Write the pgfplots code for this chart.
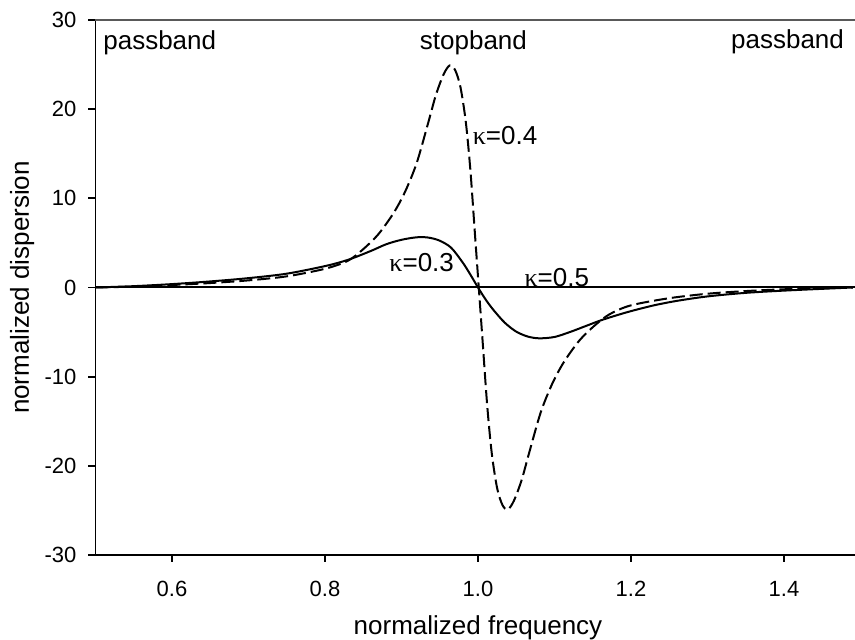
\documentclass[border=0pt]{standalone}
\usepackage{pgfplots}
\pgfplotsset{compat=1.18}
\usepackage{fontspec}
\setmainfont{Liberation Sans}
\newfontfamily\seriff{Liberation Serif}
\newcommand{\kap}{{\seriff κ}}
\begin{document}
\begin{tikzpicture}
\begin{axis}[
  name=ax,
  scale only axis,
  width=382.5pt, height=267.5pt,
  xmin=0.5, xmax=1.5, ymin=-30, ymax=30,
  axis x line*=bottom, axis y line*=left,
  axis line style={line width=0.9pt, black},
  tick align=outside,
  major tick length=3.5pt,
  tick style={line width=0.9pt, black},
  xtick={0.6,0.8,1.0,1.2,1.4},
  xticklabels={0.6,0.8,1.0,1.2,1.4},
  ytick={-30,-20,-10,0,10,20,30},
  yticklabels={-30,-20,-10,0,10,20,30},
  ticklabel style={font=\fontsize{11}{13}\selectfont},
  xticklabel style={yshift=-6pt},
  yticklabel style={xshift=-2.5pt},
  xlabel={normalized frequency},
  ylabel={normalized dispersion},
  label style={font=\fontsize{13}{15}\selectfont},
  xlabel style={at={(axis description cs:0.5,-0.1495)}, anchor=base},
  ylabel style={at={(axis description cs:-0.087,0.5)}, anchor=base, rotate=0},
  clip=false,
]
% zero line (kappa = 0.5)
\addplot[black, line width=1pt] coordinates {(0.5,0) (1.5,0)};
% solid curve (kappa = 0.3)
\addplot[black, line width=1pt, smooth] coordinates {
(0.50,0) (0.55,0.15) (0.60,0.38) (0.65,0.68) (0.70,1.05) (0.75,1.55)
(0.80,2.4) (0.83,3.1) (0.86,4.1) (0.88,4.85) (0.90,5.35) (0.92,5.63)
(0.935,5.6) (0.95,5.25) (0.965,4.45) (0.98,2.8) (0.99,1.45) (1.00,0)
(1.01,-1.35) (1.02,-2.5) (1.035,-3.95) (1.05,-4.95) (1.065,-5.5)
(1.08,-5.7) (1.10,-5.55) (1.12,-5.0) (1.14,-4.35) (1.16,-3.7)
(1.18,-3.15) (1.20,-2.65) (1.23,-2.0) (1.26,-1.5) (1.30,-1.0)
(1.35,-0.6) (1.40,-0.35) (1.45,-0.15) (1.49,0)
};
% dashed curve (kappa = 0.4)
\addplot[black, line width=1pt, dash pattern=on 6.5pt off 2.5pt, smooth] coordinates {
(0.50,0) (0.55,0.1) (0.60,0.28) (0.65,0.5) (0.70,0.8) (0.75,1.25)
(0.80,2.1) (0.83,3.0) (0.85,4.3) (0.87,6.0) (0.89,8.4) (0.905,10.8)
(0.92,14.0) (0.935,18.5) (0.945,21.6) (0.955,23.9) (0.963,24.9)
(0.97,24.4) (0.977,22.5) (0.984,18.6) (0.990,13.2) (0.996,6.0)
(1.001,0) (1.006,-6.0) (1.012,-13.2) (1.018,-18.6) (1.025,-22.5)
(1.032,-24.4) (1.039,-24.9) (1.047,-23.9) (1.057,-21.6) (1.067,-18.5)
(1.082,-14.0) (1.097,-10.8) (1.112,-8.4) (1.132,-6.0) (1.152,-4.3)
(1.172,-3.0) (1.20,-2.0) (1.25,-1.2) (1.30,-0.7) (1.35,-0.4)
(1.40,-0.2) (1.45,-0.08) (1.49,0)
};
\draw[gray!70!black, line width=0.9pt] (rel axis cs:0,1) -- (rel axis cs:1,1);
\node[font=\fontsize{13}{15}\selectfont] at (axis cs:0.584,27.4) {passband};
\node[font=\fontsize{13}{15}\selectfont] at (axis cs:0.994,27.5) {stopband};
\node[font=\fontsize{13}{15}\selectfont] at (axis cs:1.4046,27.6) {passband};
\node[font=\fontsize{13}{15}\selectfont] at (axis cs:1.0353,17.0) {\kap=0.4};
\node[font=\fontsize{13}{15}\selectfont] at (axis cs:0.9264,2.77) {\kap=0.3};
\node[font=\fontsize{13}{15}\selectfont] at (axis cs:1.103,1.09) {\kap=0.5};
\end{axis}
\pgfresetboundingbox
\path ([xshift=-47.75pt, yshift=-42.5pt]ax.south west) rectangle ([xshift=-2.75pt, yshift=10pt]ax.north east);
\end{tikzpicture}
\end{document}
